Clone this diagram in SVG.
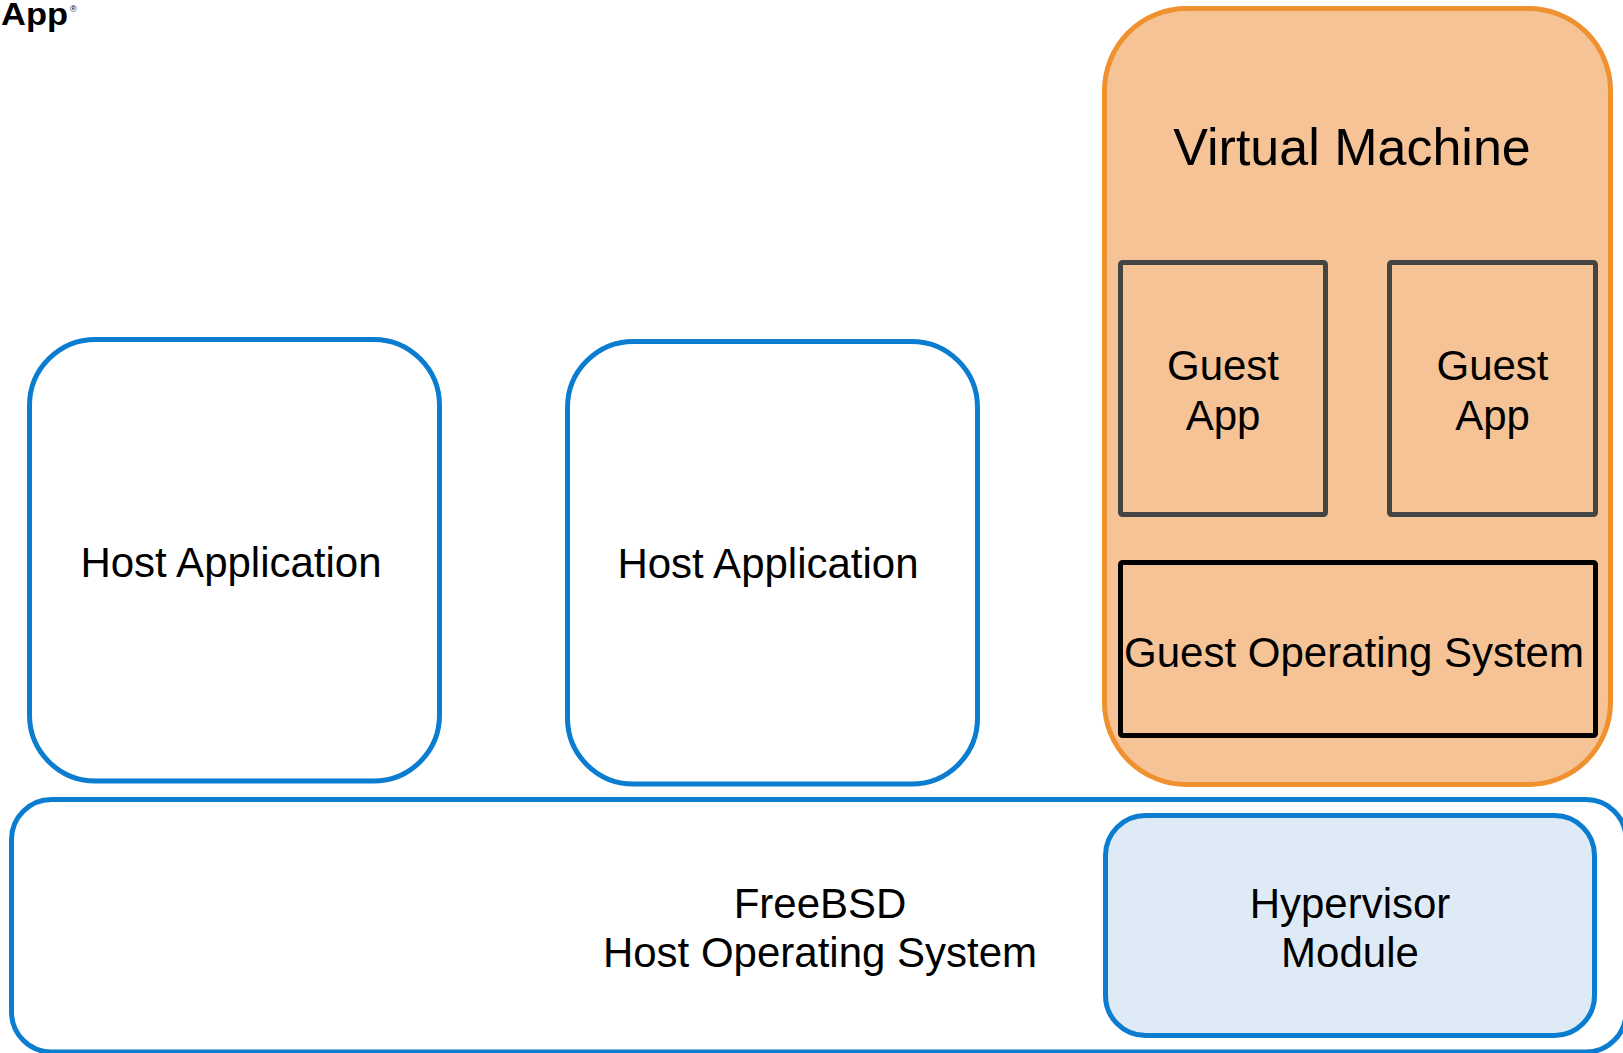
<svg xmlns="http://www.w3.org/2000/svg" width="1623" height="1053" viewBox="0 0 1623 1053">
<style>
  .blue { fill: #ffffff; stroke: #0a7dd0; stroke-width: 5; }
  .hyp { fill: #deebf7; stroke: #0a7dd0; stroke-width: 5; }
  .vm { fill: #f5c396; stroke: #f0912f; stroke-width: 5; }
  .gapp { fill: #f5c396; stroke: #444444; stroke-width: 5; }
  .gos { fill: #f5c396; stroke: #000000; stroke-width: 5; }
  text { font-family: "Liberation Sans", Arial, sans-serif; fill: #000; text-anchor: middle; }
  .t42 { font-size: 42px; }
</style>
<rect width="1623" height="1053" fill="#ffffff"/>
<g id="logo">
  <text x="1" y="25" style="text-anchor:start;font-weight:bold;font-size:31px" textLength="67" lengthAdjust="spacingAndGlyphs">App</text>
  <text x="70" y="12" style="text-anchor:start;font-size:9px">®</text>
</g>
<g id="host-os">
  <rect class="blue" x="11.5" y="799.5" width="1614.5" height="252.5" rx="40"/>
  <text class="t42" x="820" y="918">FreeBSD</text>
  <text class="t42" x="820" y="967">Host Operating System</text>
</g>
<g id="hypervisor">
  <rect class="hyp" x="1105.5" y="815.5" width="489" height="220" rx="40"/>
  <text class="t42" x="1350" y="918">Hypervisor</text>
  <text class="t42" x="1350" y="967">Module</text>
</g>
<g id="host-app-1">
  <rect class="blue" x="29.5" y="339.5" width="410" height="441.5" rx="66"/>
  <text class="t42" x="231" y="577">Host Application</text>
</g>
<g id="host-app-2">
  <rect class="blue" x="567.5" y="341.5" width="410" height="442.5" rx="66"/>
  <text class="t42" x="768" y="578">Host Application</text>
</g>
<g id="virtual-machine">
  <rect class="vm" x="1104.5" y="8.5" width="506" height="776" rx="82"/>
  <text x="1352" y="165" style="font-size:52px">Virtual Machine</text>
</g>
<g id="guest-app-1">
  <rect class="gapp" x="1120.5" y="262.5" width="205" height="252" rx="2"/>
  <text class="t42" x="1223" y="380">Guest</text>
  <text class="t42" x="1223" y="430">App</text>
</g>
<g id="guest-app-2">
  <rect class="gapp" x="1389.5" y="262.5" width="206" height="252" rx="2"/>
  <text class="t42" x="1492.5" y="380">Guest</text>
  <text class="t42" x="1492.5" y="430">App</text>
</g>
<g id="guest-os">
  <rect class="gos" x="1120.5" y="562.5" width="475" height="173" rx="2"/>
  <text class="t42" x="1354" y="667">Guest Operating System</text>
</g>
<g id="connectors"></g>
</svg>
